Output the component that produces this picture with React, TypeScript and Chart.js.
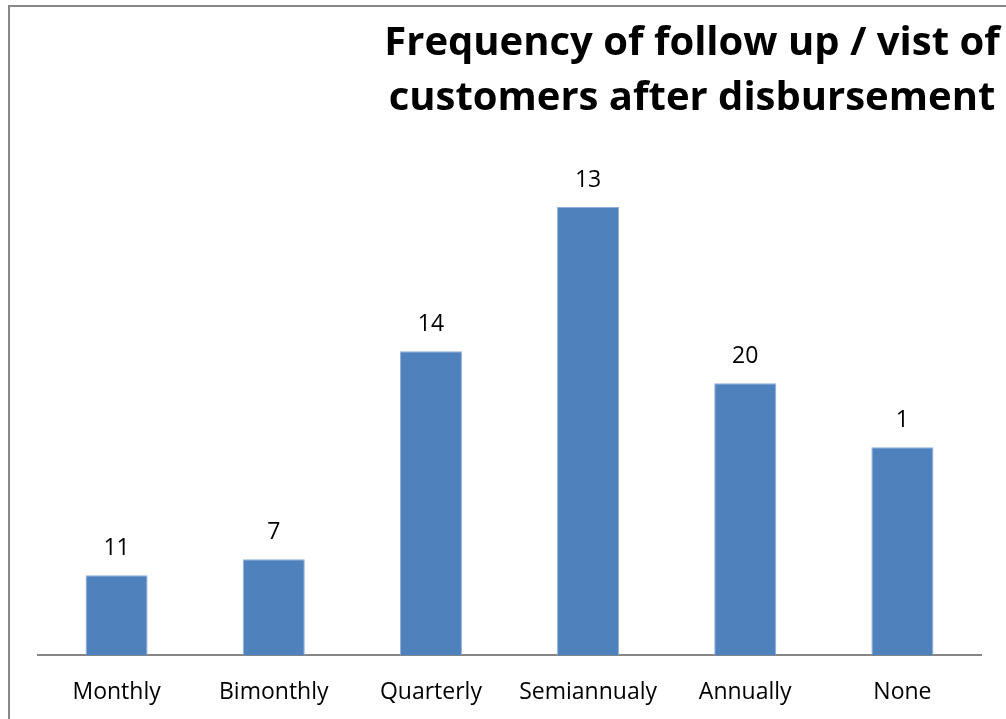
import React, { useEffect, useRef } from "react";
import { Chart, registerables } from "chart.js";

Chart.register(...registerables);

const categories = ["Monthly", "Bimonthly", "Quarterly", "Semiannualy", "Annually", "None"];
const counts = [5, 6, 19, 28, 17, 13];
const barLabels = ["11", "7", "14", "13", "20", "1"];
const titleLines = ["Frequency of follow up / vist of", "customers after disbursement"];
const yMax = 30;

const FONT = "'Open Sans', 'Noto Sans', sans-serif";

const barLabelPlugin = {
  id: "barLabels",
  afterDatasetsDraw(chart: any) {
    const ctx = chart.ctx;
    const meta = chart.getDatasetMeta(0);
    ctx.save();
    ctx.font = `23px ${FONT}`;
    ctx.fillStyle = "#000";
    ctx.textAlign = "center";
    ctx.textBaseline = "middle";
    meta.data.forEach((bar: any, i: number) => {
      ctx.fillText(barLabels[i], bar.x, bar.y - 27);
    });
    ctx.restore();
  },
};

export default function App() {
  const ref = useRef<HTMLCanvasElement | null>(null);

  useEffect(() => {
    if (!ref.current) return;
    const chart = new Chart(ref.current, {
      type: "bar",
      data: {
        labels: categories,
        datasets: [
          {
            data: counts,
            backgroundColor: "#4F81BD",
            borderColor: "#8fb0da",
            borderWidth: 1,
            barPercentage: 0.395,
            categoryPercentage: 1,
          },
        ],
      },
      options: {
        animation: false,
        responsive: false,
        layout: { padding: { left: 38, right: 25, top: 175, bottom: 16 } },
        plugins: {
          legend: { display: false },
          title: { display: false },
          tooltip: { enabled: false },
        },
        scales: {
          x: {
            grid: { display: false, drawTicks: false },
            border: { display: true, color: "#868686", width: 2 },
            ticks: {
              color: "#000",
              padding: 23,
              font: { family: FONT, size: 23 },
              maxRotation: 0,
            },
          },
          y: {
            display: false,
            min: 0,
            max: yMax,
          },
        },
      },
      plugins: [barLabelPlugin],
    });
    return () => chart.destroy();
  }, []);

  return (
    <div
      style={{
        position: "fixed",
        left: 0,
        top: 0,
        width: 1006,
        height: 719,
        overflow: "hidden",
        background: "#fff",
      }}
    >
      <div
        style={{
          position: "absolute",
          left: 8,
          top: 5,
          width: 1300,
          height: 900,
          borderLeft: "2px solid #878787",
          borderTop: "2px solid #878787",
        }}
      />
      <canvas
        ref={ref}
        width={1006}
        height={745}
        style={{ position: "absolute", left: 0, top: 0, display: "block" }}
      />
      <div
        style={{
          position: "absolute",
          left: 292,
          top: 12,
          width: 800,
          textAlign: "center",
          fontFamily: FONT,
          fontWeight: 700,
          fontSize: 40,
          lineHeight: "55px",
          color: "#000",
          whiteSpace: "nowrap",
        }}
      >
        {titleLines.map((t, i) => (
          <div key={i}>{t}</div>
        ))}
      </div>
    </div>
  );
}
